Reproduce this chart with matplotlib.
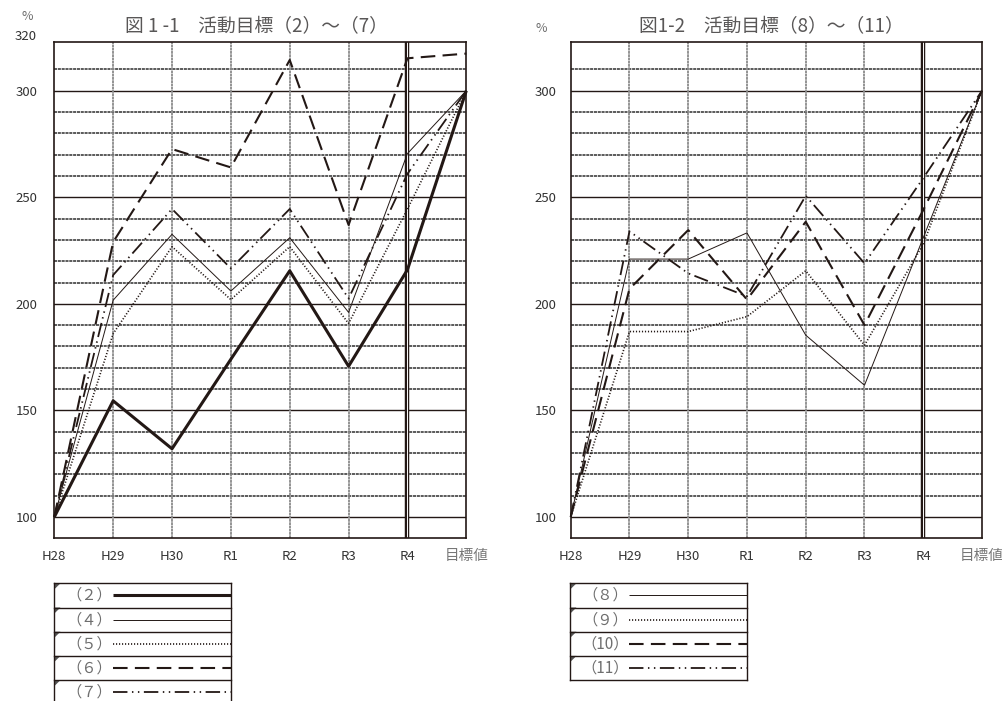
import matplotlib
matplotlib.use('Agg')
import matplotlib.pyplot as plt
from matplotlib.patches import Polygon

plt.rcParams['font.family'] = ['Noto Sans CJK JP', 'DejaVu Sans']

# ---------------- data ----------------
categories = ['H28', 'H29', 'H30', 'R1', 'R2', 'R3', 'R4', '目標値']
y_ticks = [100, 150, 200, 250, 300]

# 図1-1 活動目標（2）～（7）
labels_1 = ['（２）', '（４）', '（５）', '（６）', '（７）']
s2 = [100, 154.5, 132, 174, 215.5, 170.7, 216, 300]
s4 = [100, 201.7, 232.6, 206, 231, 196, 270.5, 300]
s5 = [100, 186, 226.8, 202, 226.8, 190.8, 244.5, 300]
s6 = [100, 229, 272.6, 264, 314.4, 237, 315.2, 317.4]
s7 = [100, 213.5, 244.5, 216.6, 244.5, 202.5, 261, 300]

# 図1-2 活動目標（8）～（11）
labels_2 = ['（８）', '（９）', '（10）', '（11）']
s8 = [100, 221, 221, 233.3, 185.3, 161.8, 231, 300]
s9 = [100, 187, 187, 194, 215.5, 180.6, 228, 300]
s10 = [100, 207, 234.6, 202, 238.5, 190, 244, 300]
s11 = [100, 234, 214.3, 203.5, 250.7, 219, 259, 300]

INK = '#231815'
GRAY_TXT = '#6e6e6e'

thick = dict(lw=2.2, ls='-')
thin = dict(lw=0.7, ls='-')
dotted = dict(lw=1.2, ls=(0, (0.7, 1.1)))
dashed = dict(lw=1.5, ls=(0, (7, 3.5)))
dashdotdot = dict(lw=1.3, ls=(0, (8, 2.5, 0.8, 2.5, 0.8, 2.5)))


def draw_panel(ax, series, styles):
    x = list(range(len(categories)))
    ax.set_xlim(0, 7)
    ax.set_ylim(90, 322.7)
    # horizontal grid
    for v in range(100, 320, 10):
        if v % 50 == 0:
            ax.axhline(v, color=INK, lw=1.0, zorder=1)
        else:
            ax.axhline(v, color='#2e2e2e', lw=1.1, ls=(0, (2, 0.5)), zorder=1)
    # vertical grid
    for xv in range(1, 6):
        ax.axvline(xv, color='#8a8a8a', lw=1.3, ls=(0, (1.5, 0.3)), zorder=1)
    # double line at R4
    ax.axvline(6, color=INK, lw=3.2, zorder=2)
    ax.axvline(6, color='white', lw=0.7, zorder=2)
    for ys, st in zip(series, styles):
        ax.plot(x, ys, color=INK, zorder=4, clip_on=False,
                solid_capstyle='butt', dash_capstyle='butt', **st)
    for s in ax.spines.values():
        s.set_color(INK)
        s.set_linewidth(1.2)
    ax.set_xticks([])
    ax.set_yticks(y_ticks)
    ax.tick_params(axis='y', length=0, labelsize=9.5, labelcolor='#333333')
    for i, c in enumerate(categories):
        if c == '目標値':
            ax.text(i, -0.036, c, transform=ax.get_xaxis_transform(),
                    ha='center', va='center', fontsize=10.5, color='#777777')
        else:
            ax.text(i, -0.036, c, transform=ax.get_xaxis_transform(),
                    ha='center', va='center', fontsize=9.5, color='#333333')


def draw_legend(lax, labels, styles, nrows):
    lax.set_xlim(0, 1)
    lax.set_ylim(nrows, 0)
    lax.axis('off')
    for r in range(nrows + 1):
        lax.plot([0, 1], [r, r], color=INK, lw=1.0, clip_on=False)
    lax.plot([0, 0], [0, nrows], color=INK, lw=1.0, clip_on=False)
    lax.plot([1, 1], [0, nrows], color=INK, lw=1.0, clip_on=False)
    for r, (lab, st) in enumerate(zip(labels, styles)):
        lax.add_patch(Polygon([[0, r], [0.035, r], [0, r + 0.25]],
                              closed=True, color='#555555', lw=0))
        lax.text(0.195, r + 0.5, lab, ha='center', va='center',
                 fontsize=11, color=GRAY_TXT)
        lax.plot([0.335, 1], [r + 0.5, r + 0.5], color=INK,
                 dash_capstyle='butt', solid_capstyle='butt', **st)


fig = plt.figure(figsize=(10.03, 7.01), dpi=100)
W, H = 1003, 701

ax1 = fig.add_axes([54.3 / W, 1 - 538.3 / H, 412 / W, 496 / H])
draw_panel(ax1, [s2, s4, s5, s6, s7], [thick, thin, dotted, dashed, dashdotdot])
ax1.tick_params(axis='y', pad=12)

ax2 = fig.add_axes([570.7 / W, 1 - 538.3 / H, 411.3 / W, 496 / H])
draw_panel(ax2, [s8, s9, s10, s11], [thin, dotted, dashed, dashdotdot])
ax2.tick_params(axis='y', pad=10)

fig.text(256 / W, 1 - 27 / H, '図 1 -1　活動目標（2）～（7）', ha='center',
         va='center', fontsize=13.5, color='#595757')
fig.text(771 / W, 1 - 27 / H, '図1-2　活動目標（8）～（11）', ha='center',
         va='center', fontsize=13.5, color='#595757')
fig.text(27 / W, 1 - 16 / H, '%', ha='center', va='center', fontsize=9, color=GRAY_TXT)
fig.text(26 / W, 1 - 37 / H, '320', ha='center', va='center', fontsize=9.5, color='#333333')
fig.text(541 / W, 1 - 28 / H, '%', ha='center', va='center', fontsize=9, color=GRAY_TXT)

row_h = 24.2
lax1 = fig.add_axes([54.3 / W, 1 - (583.3 + 5 * row_h) / H, 176.7 / W, 5 * row_h / H])
draw_legend(lax1, labels_1, [thick, thin, dotted, dashed, dashdotdot], 5)

lax2 = fig.add_axes([570.3 / W, 1 - (583.3 + 4 * row_h) / H, 176.7 / W, 4 * row_h / H])
draw_legend(lax2, labels_2, [thin, dotted, dashed, dashdotdot], 4)

fig.savefig('out.png', dpi=100)
